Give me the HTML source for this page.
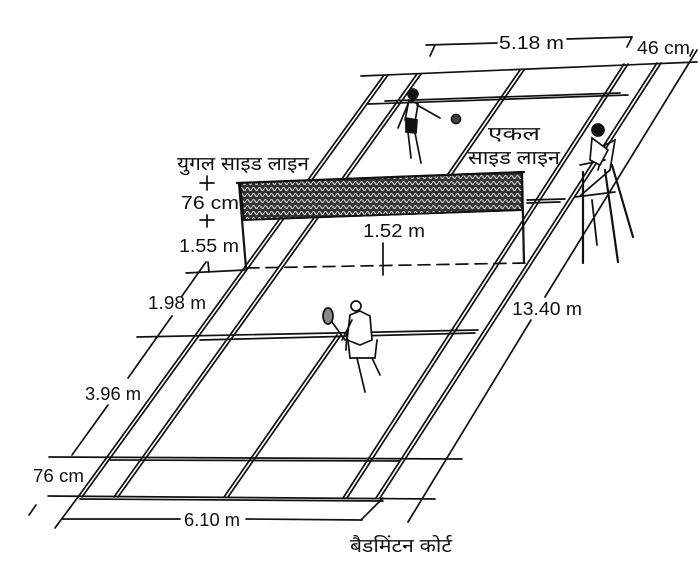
<!DOCTYPE html>
<html><head><meta charset="utf-8"><style>
html,body{margin:0;padding:0;background:#fff;}
svg{display:block;}
text{font-family:"Liberation Sans","Noto Sans CJK SC",sans-serif;fill:#111;}
.hi{font-family:"Liberation Sans","Noto Sans CJK SC","WenQuanYi Zen Hei",sans-serif;}
</style></head><body>
<svg width="700" height="572" viewBox="0 0 700 572" xmlns="http://www.w3.org/2000/svg">
<defs>
<pattern id="mesh" width="6" height="6" patternUnits="userSpaceOnUse">
<rect width="6" height="6" fill="#333"/>
<path d="M0 3 Q1.5 0 3 3 T6 3" stroke="#ddd" stroke-width="1.1" fill="none"/>
</pattern>
</defs>
<g stroke="#111" stroke-width="1.7" fill="none" stroke-linecap="round">
<line x1="78" y1="497" x2="384" y2="75"/><line x1="82" y1="497" x2="388" y2="75"/>
<line x1="114" y1="497" x2="417" y2="74"/><line x1="118" y1="497" x2="421" y2="74"/>
<line x1="224" y1="497" x2="337" y2="335"/><line x1="228" y1="497" x2="341" y2="335"/>
<line x1="430" y1="200" x2="520" y2="70"/><line x1="434" y1="200" x2="524" y2="70"/>
<line x1="343" y1="498" x2="624" y2="64"/><line x1="347" y1="498" x2="628" y2="64"/>
<line x1="376" y1="498" x2="657" y2="63"/><line x1="380" y1="498" x2="661" y2="63"/>
<line x1="361" y1="76" x2="697" y2="62"/>
<line x1="368" y1="104" x2="628" y2="95"/><line x1="385" y1="101" x2="620" y2="93"/>
<line x1="527" y1="200" x2="565" y2="199"/><line x1="527" y1="203" x2="560" y2="202"/>
<line x1="137" y1="337" x2="478" y2="330"/><line x1="200" y1="340" x2="475" y2="333"/>
<line x1="49" y1="457" x2="462" y2="459"/><line x1="110" y1="460" x2="400" y2="461"/>
<line x1="48" y1="496" x2="435" y2="499"/><line x1="80" y1="499" x2="383" y2="501"/>
<line x1="78" y1="497" x2="55" y2="528"/>
<line x1="383" y1="498" x2="361" y2="520"/>
<line x1="29" y1="515" x2="36" y2="505"/>
<line x1="72" y1="455" x2="108" y2="405"/>
<line x1="128" y1="378" x2="172" y2="316"/>
<line x1="182" y1="296" x2="206" y2="262"/>
<line x1="697" y1="50" x2="545" y2="297"/>
<line x1="531" y1="320" x2="408" y2="522"/>
<line x1="426" y1="45" x2="497" y2="43"/>
<line x1="567" y1="39" x2="632" y2="37"/>
<line x1="435" y1="45" x2="430" y2="56"/>
<line x1="632" y1="37" x2="627" y2="47"/>
<line x1="693" y1="50" x2="690" y2="56"/>
<line x1="62" y1="519" x2="180" y2="519"/>
<line x1="246" y1="519" x2="362" y2="520"/>
<line x1="200" y1="183" x2="214" y2="183"/><line x1="207" y1="176" x2="207" y2="190"/>
<line x1="200" y1="220" x2="214" y2="220"/><line x1="207" y1="215" x2="207" y2="227"/>
<line x1="208" y1="262" x2="209" y2="272"/>
<line x1="186" y1="273" x2="245" y2="270"/>
<line x1="383" y1="243" x2="383" y2="275"/>
<line x1="247" y1="268" x2="525" y2="263" stroke-dasharray="12,7"/>
<polygon points="240,183 522,172 522,210 244,220" fill="url(#mesh)"/>
<line x1="237" y1="183" x2="524" y2="172" stroke-width="2.2"/>
<line x1="239" y1="183" x2="246" y2="268" stroke-width="2.2"/>
<line x1="522" y1="172" x2="524" y2="263" stroke-width="2.2"/>
<line x1="244" y1="220" x2="522" y2="210"/>
<line x1="583" y1="172" x2="583" y2="263" stroke-width="2.2"/>
<line x1="605" y1="170" x2="618" y2="262" stroke-width="2.2"/>
<line x1="612" y1="165" x2="633" y2="237" stroke-width="2.2"/>
<line x1="592" y1="200" x2="597" y2="245" stroke-width="1.8"/>
<path d="M575 197 L615 192 M580 196 L610 170 L615 140 L605 145 L598 170" />
<path d="M580 165 L605 160" />
<circle cx="598" cy="130" r="6" fill="#111"/>
<path d="M592 138 L590 160 L600 165 L608 150 Z" fill="#fff"/>
<circle cx="413" cy="94" r="5" fill="#111"/>
<path d="M409 100 L405 120 L415 122 L418 104 Z"/>
<path d="M406 118 L406 132 L416 133 L417 120 Z" fill="#111"/>
<path d="M408 132 L411 158 M415 133 L421 163 M417 105 L440 118 M408 104 L398 128"/>
<circle cx="456" cy="119" r="4.5" fill="#444"/>
<circle cx="356" cy="306" r="5" fill="#fff"/>
<path d="M350 315 L347 340 L360 345 L372 340 L370 316 L360 311 Z" fill="#fff"/>
<path d="M348 340 L350 358 L375 358 L377 340"/>
<path d="M357 358 L365 392 M372 358 L380 375 M352 320 L342 340 M347 330 L346 350"/>
<ellipse cx="328" cy="316" rx="5" ry="8" fill="#888"/>
<line x1="332" y1="322" x2="345" y2="340"/>
</g>
<g font-size="18">
<text x="499" y="49" textLength="65" lengthAdjust="spacingAndGlyphs">5.18 m</text>
<text x="637" y="54" textLength="53" lengthAdjust="spacingAndGlyphs">46 cm</text>
<text x="181" y="209" textLength="58" lengthAdjust="spacingAndGlyphs">76 cm</text>
<text x="179" y="252" textLength="60" lengthAdjust="spacingAndGlyphs">1.55 m</text>
<text x="363" y="237" textLength="62" lengthAdjust="spacingAndGlyphs">1.52 m</text>
<text x="148" y="309" textLength="58" lengthAdjust="spacingAndGlyphs">1.98 m</text>
<text x="85" y="400" textLength="56" lengthAdjust="spacingAndGlyphs">3.96 m</text>
<text x="33" y="482" textLength="51" lengthAdjust="spacingAndGlyphs">76 cm</text>
<text x="512" y="315" textLength="70" lengthAdjust="spacingAndGlyphs">13.40 m</text>
<text x="184" y="526" textLength="56" lengthAdjust="spacingAndGlyphs">6.10 m</text>
</g>
<g font-size="19" class="hi">
<text x="177" y="170" textLength="132" lengthAdjust="spacingAndGlyphs">युगल साइड लाइन</text>
<text x="488" y="140" textLength="52" lengthAdjust="spacingAndGlyphs">एकल</text>
<text x="468" y="164" textLength="92" lengthAdjust="spacingAndGlyphs">साइड लाइन</text>
<text x="350" y="552" textLength="102" lengthAdjust="spacingAndGlyphs">बैडमिंटन कोर्ट</text>
</g>
</svg>
</body></html>
